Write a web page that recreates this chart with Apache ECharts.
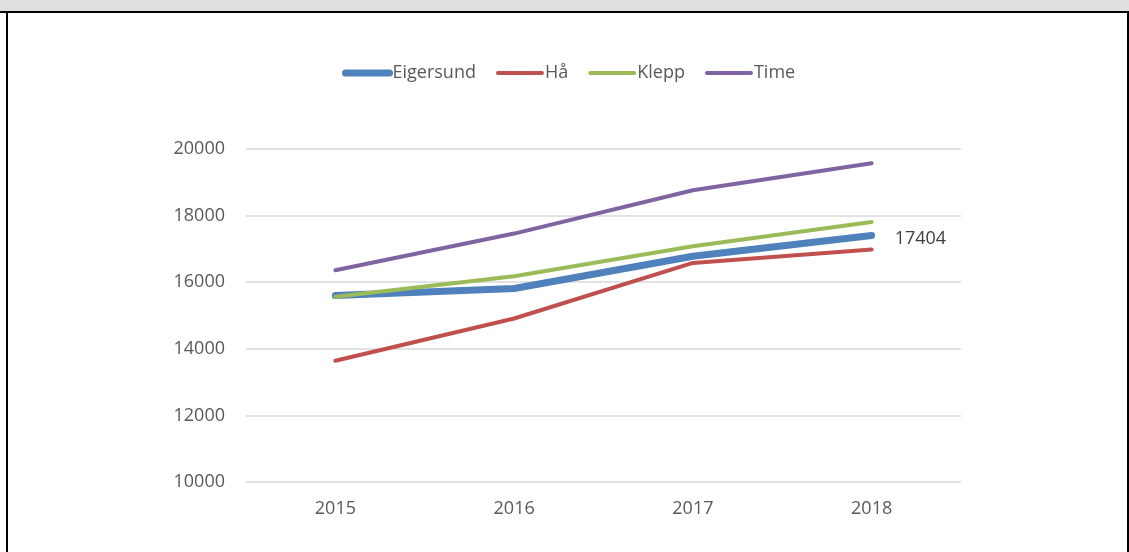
<!DOCTYPE html>
<html>
<head>
<meta charset="utf-8">
<title>Eigersund, Hå, Klepp, Time</title>
<script src="https://cdn.jsdelivr.net/npm/echarts@6/dist/echarts.min.js"></script>
<style>
  html, body { margin: 0; padding: 0; background: #fff; }
  #chart { width: 1129px; height: 552px; }
</style>
</head>
<body>
<div id="chart"></div>
<script>
// data
const years = ['2015', '2016', '2017', '2018']
const eigersund = [15600, 15810, 16780, 17404]
const haa = [13640, 14910, 16580, 16980]
const klepp = [15560, 16180, 17080, 17810]
const time = [16360, 17460, 18760, 19570]

const font = '"Open Sans", "Liberation Sans", sans-serif'
const textColor = '#595959'

const chart = echarts.init(document.getElementById('chart'))

function lineSeries(name, data, color, width, z) {
  return {
    name: name,
    type: 'line',
    data: data,
    symbol: 'none',
    z: z,
    lineStyle: { color: color, width: width, cap: 'round', join: 'round' },
    itemStyle: { color: color }
  }
}

const series = [
  lineSeries('Eigersund', eigersund, '#4F81BD', 7, 2),
  lineSeries('Hå', haa, '#C0504D', 4, 3),
  lineSeries('Klepp', klepp, '#9BBB59', 4, 4),
  lineSeries('Time', time, '#8064A2', 4, 5)
]
// only the last Eigersund point carries a label, so it needs a (tiny) symbol
series[0].data = eigersund.map((v, i) => {
  if (i !== eigersund.length - 1) return v
  return {
    value: v,
    symbol: 'circle',
    symbolSize: 2,
    label: {
      show: true,
      position: 'right',
      distance: 22,
      offset: [0, 3],
      color: '#404040',
      fontFamily: font,
      fontSize: 18
    }
  }
})

const legendLine = (name, width) => ({
  name: name,
  lineStyle: { width: width, cap: 'round' },
  itemStyle: { opacity: 0 }
})

const option = {
  animation: false,
  backgroundColor: '#fff',
  textStyle: { fontFamily: font },
  graphic: [
    { type: 'rect', shape: { x: 0, y: 0, width: 1129, height: 11 }, style: { fill: '#e0e0e0' }, silent: true },
    { type: 'rect', shape: { x: 0, y: 11, width: 1129, height: 2 }, style: { fill: '#000' }, silent: true },
    { type: 'rect', shape: { x: 6, y: 11, width: 2, height: 541 }, style: { fill: '#000' }, silent: true },
    { type: 'rect', shape: { x: 1127, y: 11, width: 2, height: 541 }, style: { fill: '#000' }, silent: true }
  ],
  legend: {
    left: 337,
    top: 59,
    itemWidth: 44,
    itemHeight: 14,
    itemGap: 20,
    selectedMode: false,
    textStyle: { color: textColor, fontSize: 18, fontFamily: font, padding: [0, 0, 0, -2] },
    data: [
      legendLine('Eigersund', 7),
      legendLine('Hå', 4),
      legendLine('Klepp', 4),
      legendLine('Time', 4)
    ]
  },
  grid: {
    left: 246,
    right: 168,
    top: 149,
    bottom: 70
  },
  xAxis: {
    type: 'category',
    data: years,
    boundaryGap: true,
    axisLine: { show: false },
    axisTick: { show: false },
    axisLabel: { color: textColor, fontSize: 18, fontFamily: font, margin: 18 }
  },
  yAxis: {
    type: 'value',
    min: 10000,
    max: 20000,
    interval: 2000,
    axisLine: { show: false },
    axisTick: { show: false },
    axisLabel: {
      color: textColor,
      fontSize: 18,
      fontFamily: font,
      margin: 21,
      formatter: v => String(v)
    },
    splitLine: { lineStyle: { color: '#d9d9d9', width: 1.5 } }
  },
  series: series
}

chart.setOption(option)
</script>
</body>
</html>
